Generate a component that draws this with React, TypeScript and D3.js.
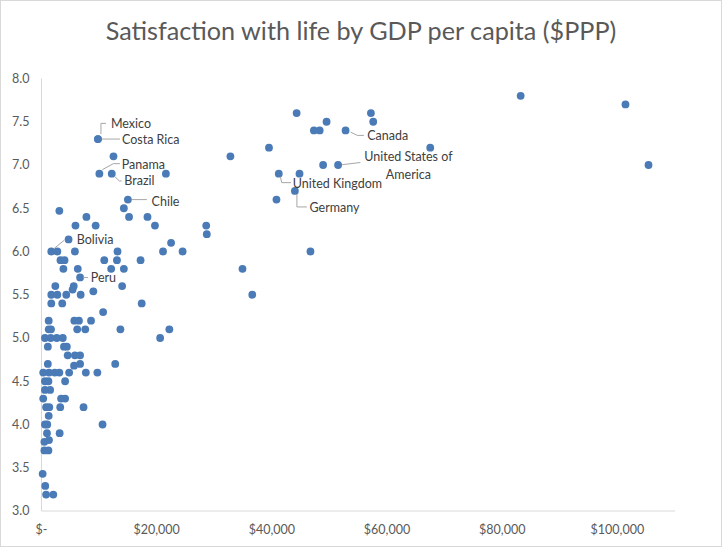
import React from "react";
import * as d3 from "d3";

// ---- data ----
const gdpPerCapita: number[] = [
  83200, 101400, 105400, 67500, 44300, 57200, 57600, 49500, 47300, 48300,
  52800, 39500, 32800, 48900, 51500, 41200, 44800, 44000, 40800, 46700,
  34900, 36600, 28600, 28700, 15000, 14300, 15200, 18400, 19700, 9400,
  22500, 21100, 24500, 13200, 10900, 13100, 17200, 12100, 14300, 14000,
  9000, 17400, 10700, 8600, 13700, 22200, 20600, 12800, 9700, 10600,
  3100, 7800, 5900, 4700, 1700, 2750, 5800, 3300, 4000, 3800,
  6300, 6700, 5600, 5400, 2400, 1700, 2750, 4300, 6800, 1700,
  3600, 1250, 5700, 6500, 1250, 1650, 6200, 7600, 600, 1600,
  2650, 3700, 1100, 3900, 4400, 4550, 5800, 6700, 1100, 5650,
  6700, 300, 1300, 2300, 3100, 4800, 7700, 600, 1200, 4100,
  600, 1500, 300, 3400, 4100, 800, 1350, 3250, 7300, 1250,
  600, 1000, 950, 3150, 500, 1300, 500, 1200, 200, 650,
  800, 2050, 9800, 9800, 10050, 12200, 12500, 21600,
];
const lifeSatisfaction: number[] = [
  7.8, 7.7, 7.0, 7.2, 7.6, 7.6, 7.5, 7.5, 7.4, 7.4,
  7.4, 7.2, 7.1, 7.0, 7.0, 6.9, 6.9, 6.7, 6.6, 6.0,
  5.8, 5.5, 6.3, 6.2, 6.6, 6.5, 6.4, 6.4, 6.3, 6.3,
  6.1, 6.0, 6.0, 6.0, 5.9, 5.9, 5.9, 5.8, 5.8, 5.6,
  5.54, 5.4, 5.3, 5.2, 5.1, 5.1, 5.0, 4.7, 4.6, 4.0,
  6.47, 6.4, 6.3, 6.14, 6.0, 6.0, 6.0, 5.9, 5.9, 5.8,
  5.8, 5.7, 5.6, 5.56, 5.6, 5.5, 5.5, 5.5, 5.5, 5.4,
  5.4, 5.2, 5.2, 5.2, 5.1, 5.1, 5.1, 5.1, 5.0, 5.0,
  5.0, 5.0, 4.9, 4.9, 4.9, 4.8, 4.8, 4.8, 4.7, 4.68,
  4.7, 4.6, 4.6, 4.6, 4.6, 4.6, 4.6, 4.5, 4.5, 4.5,
  4.4, 4.4, 4.3, 4.3, 4.3, 4.2, 4.2, 4.2, 4.2, 4.1,
  4.0, 4.0, 3.9, 3.9, 3.8, 3.82, 3.7, 3.7, 3.43, 3.29,
  3.19, 3.19, 7.3, 7.3, 6.9, 6.9, 7.1, 6.9,
];

const labelNames: string[] = [
  "Mexico", "Costa Rica", "Panama", "Brazil", "Chile", "Bolivia", "Peru",
  "Canada", "United States of America", "United Kingdom", "Germany",
];
const labelGdp: number[] = [9800, 9800, 10050, 12200, 15000, 1700, 6700, 52800, 51500, 41200, 44000];
const labelSat: number[] = [7.3, 7.3, 6.9, 6.9, 6.6, 6.0, 5.7, 7.4, 7.0, 6.9, 6.7];

const xTicks: number[] = [0, 20000, 40000, 60000, 80000, 100000];
const yTicks: number[] = [3.0, 3.5, 4.0, 4.5, 5.0, 5.5, 6.0, 6.5, 7.0, 7.5, 8.0];
const title = "Satisfaction with life by GDP per capita ($PPP)";

// ---- layout (label offsets relative to their point, in px) ----
type Lay = { tx: number; ty: number; anchor?: string; lines?: string[]; leader: [number, number][] };
const labelLayout: Lay[] = [
  { tx: 13, ty: -15.7, leader: [[3, -5], [3, -15.7], [8, -15.7]] },
  { tx: 24, ty: 0.3, leader: [[4, 0], [22, 0]] },
  { tx: 22.4, ty: -9.4, leader: [[3, -4], [14, -10], [20.5, -10]] },
  { tx: 12.6, ty: 7.3, leader: [[3, 3], [7.6, 7.3], [10, 7.3]] },
  { tx: 23.7, ty: 2.4, leader: [[4, 0], [19, 0]] },
  { tx: 25.4, ty: -12, leader: [[2.8, -3], [13, -11.3]] },
  { tx: 10.7, ty: 0, leader: [[3, 0], [8, 0]] },
  { tx: 21.7, ty: 5.7, leader: [[5, 1.7], [11.7, 5], [18.3, 5]] },
  { tx: 70.3, ty: -8.7, anchor: "middle", lines: ["United States of", "America"], leader: [[4, -0.3], [22.3, -2.5]] },
  { tx: 14, ty: 9.6, leader: [[1.5, 3], [3, 9], [12.3, 9]] },
  { tx: 14.6, ty: 16.6, leader: [[2, 3.3], [2, 16], [12, 16]] },
];

const W = 723;
const H = 548;
const FONT = "Lato, 'Open Sans', sans-serif";

export default function App() {
  const x = d3.scaleLinear().domain([0, 110000]).range([41.5, 675]);
  const y = d3.scaleLinear().domain([3, 8]).range([511, 78.5]);
  const fmtX = (v: number) => (v === 0 ? "$-" : "$" + d3.format(",")(v));
  const line = d3.line<[number, number]>();

  return (
    <div>
      <style>{"body{margin:0}"}</style>
      <svg width={W} height={H} style={{ display: "block", fontFamily: FONT }}>
        <rect x={0.5} y={0.5} width={721} height={546} fill="#ffffff" stroke="#d9d9d9" />
        <text x={361} y={31} textAnchor="middle" dy="0.35em" fontSize={25.2} fill="#595959">
          {title}
        </text>
        {/* axes */}
        <line x1={x(0)} x2={x(0)} y1={y(8)} y2={y(3)} stroke="#d9d9d9" />
        <line x1={x(0)} x2={x(110000)} y1={y(3)} y2={y(3)} stroke="#d9d9d9" />
        {yTicks.map((t) => (
          <text key={"y" + t} x={29.5} y={y(t)} dy="0.35em" textAnchor="end" fontSize={12.5} fill="#595959">
            {d3.format(".1f")(t)}
          </text>
        ))}
        {xTicks.map((t) => (
          <text key={"x" + t} x={x(t)} y={530} dy="0.35em" textAnchor="middle" fontSize={12.5} fill="#595959">
            {fmtX(t)}
          </text>
        ))}
        {/* points */}
        {gdpPerCapita.map((g, i) => (
          <circle key={"p" + i} cx={x(g)} cy={y(lifeSatisfaction[i])} r={3.9} fill="#4a7bb7" />
        ))}
        {/* labels */}
        {labelNames.map((name, i) => {
          const px = x(labelGdp[i]);
          const py = y(labelSat[i]);
          const L = labelLayout[i];
          const pts = L.leader.map(([dx, dy]) => [px + dx, py + dy] as [number, number]);
          return (
            <g key={"l" + name}>
              <path d={line(pts) || ""} fill="none" stroke="#a6a6a6" strokeWidth={1} />
              {L.lines ? (
                L.lines.map((ln, k) => (
                  <text key={k} x={px + L.tx} y={py + L.ty + k * 18} dy="0.35em" textAnchor={L.anchor || "start"} fontSize={12.5} fill="#404040">
                    {ln}
                  </text>
                ))
              ) : (
                <text x={px + L.tx} y={py + L.ty} dy="0.35em" textAnchor={L.anchor || "start"} fontSize={12.5} fill="#404040">
                  {name}
                </text>
              )}
            </g>
          );
        })}
      </svg>
    </div>
  );
}
